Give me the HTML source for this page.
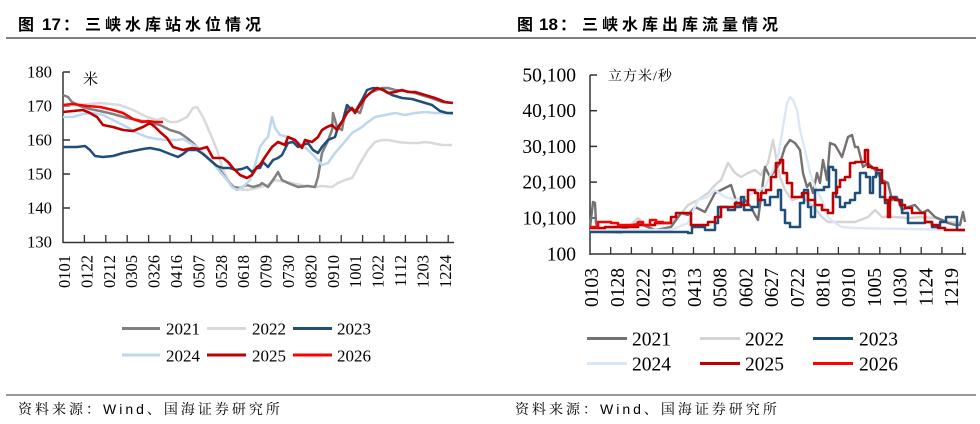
<!DOCTYPE html>
<html><head><meta charset="utf-8">
<style>
html,body{margin:0;padding:0;background:#fff;}
svg{display:block;}
.t{font-family:"Liberation Sans","Noto Sans CJK SC",sans-serif;font-weight:bold;font-size:16px;fill:#000;}
.src{font-family:"Liberation Sans","Noto Serif CJK SC",serif;font-size:14px;fill:#000;letter-spacing:3px;}
.yl{font-family:"Liberation Serif",serif;font-size:16.7px;fill:#000;text-anchor:end;}
.yr{font-family:"Liberation Serif",serif;font-size:19.5px;fill:#000;text-anchor:end;}
.xl{font-family:"Liberation Serif",serif;font-size:16.5px;fill:#000;text-anchor:end;}
.xr{font-family:"Liberation Serif",serif;font-size:19.5px;fill:#000;text-anchor:end;}
.lgl{font-family:"Liberation Serif",serif;font-size:17px;fill:#000;}
.lgr{font-family:"Liberation Serif",serif;font-size:19.5px;fill:#000;}
.u{font-family:"Liberation Serif","Noto Serif CJK SC",serif;font-size:14px;fill:#000;}
polyline{fill:none;stroke-linejoin:round;}
</style></head>
<body>
<svg width="980" height="424" viewBox="0 0 980 424" xmlns="http://www.w3.org/2000/svg">
<!-- titles -->
<text class="t" x="18" y="30">图</text>
<text class="t" x="42" y="30" style="font-family:'Liberation Sans',sans-serif;font-size:17px">17</text>
<text class="t" x="63" y="30">：</text>
<text class="t" x="85" y="30" style="letter-spacing:4px">三峡水库站水位情况</text>

<text class="t" x="517" y="30">图</text>
<text class="t" x="539" y="30" style="font-family:'Liberation Sans',sans-serif;font-size:17px">18</text>
<text class="t" x="560" y="30">：</text>
<text class="t" x="582" y="30" style="letter-spacing:4px">三峡水库出库流量情况</text>

<line x1="6" y1="38" x2="976" y2="38" stroke="#555" stroke-width="1.5"/>
<line x1="6" y1="395" x2="976" y2="395" stroke="#777" stroke-width="1.5"/>

<text class="src" x="18" y="414">资料来源：Wind、国海证券研究所</text>
<text class="src" x="515" y="414">资料来源：Wind、国海证券研究所</text>

<!-- LEFT CHART -->
<g stroke="#333" stroke-width="1.5">
<line x1="63" y1="72" x2="63" y2="243"/>
<line x1="63" y1="242.5" x2="454" y2="242.5"/>
<line x1="63" y1="72" x2="70" y2="72"/>
<line x1="63" y1="106" x2="70" y2="106"/>
<line x1="63" y1="140" x2="70" y2="140"/>
<line x1="63" y1="174" x2="70" y2="174"/>
<line x1="63" y1="208" x2="70" y2="208"/>
</g>
<g stroke="#333" stroke-width="1.3">
<line x1="84.4" y1="235" x2="84.4" y2="242"/><line x1="105.8" y1="235" x2="105.8" y2="242"/><line x1="127.2" y1="235" x2="127.2" y2="242"/><line x1="148.6" y1="235" x2="148.6" y2="242"/><line x1="170" y1="235" x2="170" y2="242"/><line x1="191.4" y1="235" x2="191.4" y2="242"/><line x1="212.8" y1="235" x2="212.8" y2="242"/><line x1="234.2" y1="235" x2="234.2" y2="242"/><line x1="255.6" y1="235" x2="255.6" y2="242"/><line x1="277" y1="235" x2="277" y2="242"/><line x1="298.4" y1="235" x2="298.4" y2="242"/><line x1="319.8" y1="235" x2="319.8" y2="242"/><line x1="341.2" y1="235" x2="341.2" y2="242"/><line x1="362.6" y1="235" x2="362.6" y2="242"/><line x1="384" y1="235" x2="384" y2="242"/><line x1="405.4" y1="235" x2="405.4" y2="242"/><line x1="426.8" y1="235" x2="426.8" y2="242"/><line x1="448.2" y1="235" x2="448.2" y2="242"/>
</g>
<text class="yl" x="52" y="77.5">180</text>
<text class="yl" x="52" y="111.5">170</text>
<text class="yl" x="52" y="145.5">160</text>
<text class="yl" x="52" y="179.5">150</text>
<text class="yl" x="52" y="213.5">140</text>
<text class="yl" x="52" y="247.5">130</text>
<text class="u" x="83" y="84" style="font-size:15px">米</text>

<g>
<text class="xl" transform="translate(70,255) rotate(-90)">0101</text>
<text class="xl" transform="translate(92.4,255) rotate(-90)">0122</text>
<text class="xl" transform="translate(114.8,255) rotate(-90)">0212</text>
<text class="xl" transform="translate(137.2,255) rotate(-90)">0305</text>
<text class="xl" transform="translate(159.6,255) rotate(-90)">0326</text>
<text class="xl" transform="translate(182,255) rotate(-90)">0416</text>
<text class="xl" transform="translate(204.4,255) rotate(-90)">0507</text>
<text class="xl" transform="translate(226.8,255) rotate(-90)">0528</text>
<text class="xl" transform="translate(249.2,255) rotate(-90)">0618</text>
<text class="xl" transform="translate(271.6,255) rotate(-90)">0709</text>
<text class="xl" transform="translate(294,255) rotate(-90)">0730</text>
<text class="xl" transform="translate(316.4,255) rotate(-90)">0820</text>
<text class="xl" transform="translate(338.8,255) rotate(-90)">0910</text>
<text class="xl" transform="translate(361.2,255) rotate(-90)">1001</text>
<text class="xl" transform="translate(383.6,255) rotate(-90)">1022</text>
<text class="xl" transform="translate(406,255) rotate(-90)">1112</text>
<text class="xl" transform="translate(428.4,255) rotate(-90)">1203</text>
<text class="xl" transform="translate(450.8,255) rotate(-90)">1224</text>
</g>

<polyline stroke="#d9d9d9" stroke-width="2.5" points="63,105 80,105 100,103 120,105 133,110 147,117 157,120 163,118 170,122 177,122 187,117 193,108 197,107 203,117 210,133 217,150 223,170 230,183 237,189 247,190 257,188 268,185 275,180 285,182 292,183 305,186 315,187 322,186 332,187 338,183 345,180 352,178 355,173 358,167 362,160 368,150 375,142 382,140 388,140 398,142 408,143 418,143 425,142 432,143 442,145 452,145"/>
<polyline stroke="#808080" stroke-width="2.5" points="63,95 68,97 72,102 80,106 90,109 100,111 113,114 127,118 147,122 160,125 170,130 180,133 187,138 193,143 200,150 207,157 213,163 220,170 227,180 233,187 240,188 247,185 253,187 260,185 262,183 268,187 275,177 278,172 282,180 288,183 298,187 308,186 315,187 318,177 322,153 327,143 332,130 333,113 337,127 342,130 345,113 348,108 355,110 360,113 362,107 365,97 372,92 382,88 388,88 395,90 405,91 415,93 428,97 442,102 452,103"/>
<polyline stroke="#bdd7ee" stroke-width="2.5" points="63,117 73,117 83,114 93,113 103,115 113,120 127,127 137,133 147,137 157,139 167,140 177,140 183,139 190,143 197,147 203,153 213,163 220,172 227,180 232,187 237,190 243,187 250,180 255,165 260,147 265,140 268,137 272,117 275,128 280,135 288,137 298,142 308,150 315,157 322,165 328,163 335,153 342,145 352,133 362,127 368,122 375,117 385,115 395,113 405,115 415,113 425,112 435,113 445,113 453,114"/>
<polyline stroke="#1f4e79" stroke-width="2.5" points="63,147 77,147 85,146 90,150 95,156 103,157 113,156 123,153 133,151 143,149 150,148 160,150 170,154 178,157 183,154 188,150 197,150 203,154 210,160 217,166 223,168 230,168 235,170 242,169 247,167 252,172 257,168 260,168 263,162 268,167 273,160 278,158 282,155 288,143 293,142 298,147 303,145 308,143 313,150 318,153 322,147 328,140 335,137 338,127 343,120 347,105 350,108 355,112 362,100 367,90 373,88 382,89 392,95 402,98 412,99 422,102 432,105 440,111 447,113 453,113"/>
<polyline stroke="#c00000" stroke-width="2.6" points="63,112 73,111 83,110 90,113 97,117 103,125 113,127 123,130 133,131 143,127 150,123 155,127 160,132 167,138 173,147 183,150 192,148 200,149 207,147 213,158 223,158 228,162 233,168 240,175 247,178 252,175 257,167 260,165 265,157 272,147 278,142 285,145 288,137 295,140 302,148 305,140 312,142 318,137 322,130 327,127 332,125 337,130 342,122 347,113 352,108 355,113 360,105 365,98 370,93 377,88 383,90 388,93 395,92 402,90 408,92 415,92 425,95 435,98 445,102 453,103"/>
<polyline stroke="#ff0000" stroke-width="2.6" points="63,105 73,104 87,106 100,107 113,110 123,113 133,119 142,122 148,121 155,122 163,122"/>

<!-- left legend -->
<g stroke-width="3">
<line x1="122" y1="328.5" x2="160" y2="328.5" stroke="#808080"/>
<line x1="207" y1="328.5" x2="246" y2="328.5" stroke="#d9d9d9"/>
<line x1="293" y1="328.5" x2="332" y2="328.5" stroke="#1f4e79"/>
<line x1="122" y1="355" x2="160" y2="355" stroke="#bdd7ee"/>
<line x1="207" y1="355" x2="246" y2="355" stroke="#c00000"/>
<line x1="293" y1="355" x2="332" y2="355" stroke="#ff0000"/>
</g>
<text class="lgl" x="166" y="334.5">2021</text>
<text class="lgl" x="252" y="334.5">2022</text>
<text class="lgl" x="337" y="334.5">2023</text>
<text class="lgl" x="166" y="361.5">2024</text>
<text class="lgl" x="252" y="361.5">2025</text>
<text class="lgl" x="337" y="361.5">2026</text>

<!-- RIGHT CHART -->
<g stroke="#333" stroke-width="1.5">
<line x1="590" y1="75" x2="590" y2="255"/>
<line x1="590" y1="254" x2="966" y2="254"/>
<line x1="590" y1="75" x2="597" y2="75"/>
<line x1="590" y1="110.7" x2="597" y2="110.7"/>
<line x1="590" y1="146.4" x2="597" y2="146.4"/>
<line x1="590" y1="182.1" x2="597" y2="182.1"/>
<line x1="590" y1="218" x2="597" y2="218"/>
</g>
<g stroke="#333" stroke-width="1.3">
<line x1="610.7" y1="247" x2="610.7" y2="254"/><line x1="631.4" y1="247" x2="631.4" y2="254"/><line x1="652.1" y1="247" x2="652.1" y2="254"/><line x1="672.8" y1="247" x2="672.8" y2="254"/><line x1="693.5" y1="247" x2="693.5" y2="254"/><line x1="714.2" y1="247" x2="714.2" y2="254"/><line x1="734.9" y1="247" x2="734.9" y2="254"/><line x1="755.6" y1="247" x2="755.6" y2="254"/><line x1="776.3" y1="247" x2="776.3" y2="254"/><line x1="797" y1="247" x2="797" y2="254"/><line x1="817.7" y1="247" x2="817.7" y2="254"/><line x1="838.4" y1="247" x2="838.4" y2="254"/><line x1="859.1" y1="247" x2="859.1" y2="254"/><line x1="879.8" y1="247" x2="879.8" y2="254"/><line x1="900.5" y1="247" x2="900.5" y2="254"/><line x1="921.2" y1="247" x2="921.2" y2="254"/><line x1="941.9" y1="247" x2="941.9" y2="254"/><line x1="962.6" y1="247" x2="962.6" y2="254"/>
</g>
<text class="yr" x="576" y="81.5">50,100</text>
<text class="yr" x="576" y="117.2">40,100</text>
<text class="yr" x="576" y="152.9">30,100</text>
<text class="yr" x="576" y="188.6">20,100</text>
<text class="yr" x="576" y="224.5">10,100</text>
<text class="yr" x="576" y="260.3">100</text>
<text class="u" x="608" y="80.5" style="letter-spacing:1px">立方米/秒</text>

<g>
<text class="xr" transform="translate(598.2,268) rotate(-90)">0103</text>
<text class="xr" transform="translate(623.9,268) rotate(-90)">0128</text>
<text class="xr" transform="translate(649.6,268) rotate(-90)">0222</text>
<text class="xr" transform="translate(675.3,268) rotate(-90)">0319</text>
<text class="xr" transform="translate(701,268) rotate(-90)">0413</text>
<text class="xr" transform="translate(726.7,268) rotate(-90)">0508</text>
<text class="xr" transform="translate(752.4,268) rotate(-90)">0602</text>
<text class="xr" transform="translate(778.1,268) rotate(-90)">0627</text>
<text class="xr" transform="translate(803.8,268) rotate(-90)">0722</text>
<text class="xr" transform="translate(829.5,268) rotate(-90)">0816</text>
<text class="xr" transform="translate(855.2,268) rotate(-90)">0910</text>
<text class="xr" transform="translate(880.9,268) rotate(-90)">1005</text>
<text class="xr" transform="translate(906.6,268) rotate(-90)">1030</text>
<text class="xr" transform="translate(932.3,268) rotate(-90)">1124</text>
<text class="xr" transform="translate(958,268) rotate(-90)">1219</text>
</g>

<polyline stroke="#d4d4d4" stroke-width="2.4" points="590,230 605,232 621,233 630,226 638,218 645,226 655,225 671,222 680,215 688,205 698,200 708,193 715,185 721,180 728,163 735,173 741,177 748,173 755,170 761,175 768,163 773,140 776,157 780,177 785,190 792,200 802,197 812,205 822,217 828,222 842,222 855,222 868,217 875,210 882,217 895,217 908,218 922,217 935,218 948,222 962,223"/>
<polyline stroke="#767171" stroke-width="2.4" points="590,228 593,202 595,203 596,223 598,230 621,230 638,223 655,230 671,227 681,213 688,215 695,207 705,212 715,193 721,190 731,185 738,207 745,200 751,207 755,215 758,220 765,167 770,177 775,170 780,163 785,147 790,140 795,143 800,150 803,173 807,187 810,183 813,193 817,173 820,183 823,160 827,180 830,143 835,145 838,150 842,157 845,147 848,137 852,135 855,147 858,147 863,167 868,163 875,170 882,180 888,183 892,200 897,197 902,210 908,207 915,205 922,213 928,210 935,217 942,220 948,223 955,225 960,225 963,212 965,222"/>
<polyline stroke="#dae8f5" stroke-width="2.4" points="590,230 671,230 688,223 698,200 708,197 715,190 725,197 735,200 745,197 755,192 765,187 773,170 778,157 782,133 787,103 790,97 793,100 797,110 800,130 805,150 810,173 815,187 822,200 828,217 835,223 842,227 855,228 962,230"/>
<polyline stroke="#1f4e79" stroke-width="2.5" points="590,232 688,232 688,233 692,233 692,227 705,227 705,230 715,230 715,223 718,223 718,207 728,207 728,210 735,210 735,207 741,207 741,197 744,197 744,210 752,210 752,207 758,207 758,200 765,200 765,205 770,205 770,197 778,197 778,190 781,190 781,210 785,210 785,223 790,223 790,227 800,227 800,203 804,203 804,190 808,190 808,207 811,207 811,217 815,217 815,190 824,190 824,187 829,187 829,167 833,167 833,170 836,170 836,197 840,197 840,207 845,207 845,203 850,203 850,200 855,200 855,193 860,193 860,173 866,173 866,177 870,177 870,193 873,193 873,177 876,177 876,173 880,173 880,197 885,197 885,203 890,203 890,197 896,197 896,200 902,200 902,213 908,213 908,223 925,223 925,222 932,222 932,227 940,227 940,222 946,222 946,217 957,217 957,230 965,230"/>
<polyline stroke="#c00000" stroke-width="2.6" points="590,228 605,228 605,227 638,227 638,225 655,225 655,223 671,223 671,217 676,217 676,213 691,213 691,225 708,225 708,222 715,222 715,217 721,217 721,207 735,207 735,203 741,203 741,205 748,205 748,190 755,190 755,193 758,193 758,200 761,200 761,193 766,193 766,190 771,190 771,177 776,177 776,163 780,163 780,160 783,160 783,173 787,173 787,183 792,183 792,197 802,197 802,193 808,193 808,200 815,200 815,205 822,205 822,210 828,210 828,213 833,213 833,193 837,193 837,187 840,187 840,180 845,180 845,177 850,177 850,163 855,163 855,162 865,162 865,150 868,150 868,167 872,167 872,168 877,168 877,170 882,170 882,183 885,183 885,200 888,200 888,217 890,217 890,198 895,198 895,200 900,200 900,205 905,205 905,208 912,208 912,213 925,213 925,222 932,222 932,225 938,225 938,228 945,228 945,230 965,230"/>
<polyline stroke="#ff0000" stroke-width="2.6" points="590,227 598,227 598,222 611,222 611,223 618,223 618,225 638,225 638,222 643,222 643,225 650,225 650,220 656,220 656,222 663,222 663,223 671,223"/>

<!-- right legend -->
<g stroke-width="3">
<line x1="587" y1="338.5" x2="627" y2="338.5" stroke="#767171"/>
<line x1="700" y1="338.5" x2="740" y2="338.5" stroke="#d4d4d4"/>
<line x1="813" y1="338.5" x2="853" y2="338.5" stroke="#1f4e79"/>
<line x1="587" y1="363.5" x2="627" y2="363.5" stroke="#dae8f5"/>
<line x1="700" y1="363.5" x2="740" y2="363.5" stroke="#c00000"/>
<line x1="813" y1="363.5" x2="853" y2="363.5" stroke="#ff0000"/>
</g>
<text class="lgr" x="632" y="345.5">2021</text>
<text class="lgr" x="745" y="345.5">2022</text>
<text class="lgr" x="859" y="345.5">2023</text>
<text class="lgr" x="632" y="370.5">2024</text>
<text class="lgr" x="745" y="370.5">2025</text>
<text class="lgr" x="859" y="370.5">2026</text>
</svg>
</body></html>
